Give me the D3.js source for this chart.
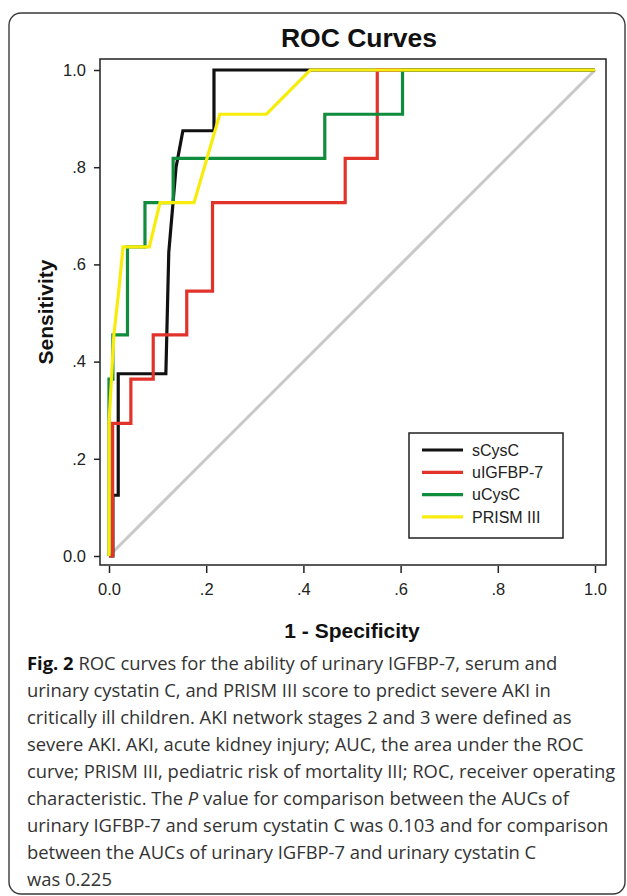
<!DOCTYPE html>
<html>
<head>
<meta charset="utf-8">
<script src="https://cdn.jsdelivr.net/npm/d3@7"></script>
<style>
  html, body { margin: 0; padding: 0; background: #fff; }
  svg { display: block; }
</style>
</head>
<body>
<svg id="chart" width="627" height="896"></svg>
<script>
// tick values and labels
const tickValues = [0, 0.2, 0.4, 0.6, 0.8, 1.0];
const tickLabels = ["0.0", ".2", ".4", ".6", ".8", "1.0"];

// series (1 - specificity, sensitivity)
const seriesNames = ["sCysC", "uIGFBP-7", "uCysC", "PRISM III"];
const seriesColors = ["#111111", "#e2332b", "#0f8c3c", "#f8ec0c"];

const sCysCX = [0, 0.008, 0.008, 0.019, 0.019, 0.117, 0.123, 0.138, 0.152, 0.216, 0.216, 0.414, 1];
const sCysCY = [0, 0, 0.125, 0.125, 0.375, 0.375, 0.625, 0.8, 0.875, 0.875, 1, 1, 1];

const uIGFBP7X = [0, 0.0075, 0.0075, 0.045, 0.045, 0.091, 0.091, 0.16, 0.16, 0.213, 0.213, 0.486, 0.486, 0.552, 0.552, 1];
const uIGFBP7Y = [0, 0, 0.273, 0.273, 0.364, 0.364, 0.455, 0.455, 0.545, 0.545, 0.727, 0.727, 0.818, 0.818, 1, 1];

const uCysCX = [0, 0, 0.008, 0.008, 0.038, 0.038, 0.074, 0.074, 0.132, 0.132, 0.444, 0.444, 0.604, 0.604, 1];
const uCysCY = [0, 0.364, 0.364, 0.455, 0.455, 0.636, 0.636, 0.727, 0.727, 0.818, 0.818, 0.909, 0.909, 1, 1];

const prismX = [0, 0, 0.005, 0.01, 0.02, 0.029, 0.083, 0.105, 0.175, 0.228, 0.324, 0.414, 1];
const prismY = [0, 0.273, 0.364, 0.455, 0.545, 0.636, 0.636, 0.727, 0.727, 0.909, 0.909, 1, 1];

const captionLines = [
    [["b", "Fig. 2"], ["n", " ROC curves for the ability of urinary IGFBP-7, serum and"]],
    [["n", "urinary cystatin C, and PRISM III score to predict severe AKI in"]],
    [["n", "critically ill children. AKI network stages 2 and 3 were defined as"]],
    [["n", "severe AKI. AKI, acute kidney injury; AUC, the area under the ROC"]],
    [["n", "curve; PRISM III, pediatric risk of mortality III; ROC, receiver operating"]],
    [["n", "characteristic. The "], ["i", "P"], ["n", " value for comparison between the AUCs of"]],
    [["n", "urinary IGFBP-7 and serum cystatin C was 0.103 and for comparison"]],
    [["n", "between the AUCs of urinary IGFBP-7 and urinary cystatin C"]],
    [["n", "was 0.225"]]
];

const svg = d3.select("#chart");
const arial = "Arial, 'Liberation Sans', sans-serif";

// outer figure box
svg.append("rect")
    .attr("x", 9).attr("y", 13)
    .attr("width", 616).attr("height", 881)
    .attr("rx", 12)
    .attr("fill", "none")
    .attr("stroke", "#3a3a3a")
    .attr("stroke-width", 1.4);

const x = d3.scaleLinear().domain([0, 1]).range([109, 595]);
const y = d3.scaleLinear().domain([0, 1]).range([556, 70]);

// frame
svg.append("rect")
    .attr("x", 100).attr("y", 59)
    .attr("width", 506).attr("height", 506)
    .attr("fill", "none")
    .attr("stroke", "#222")
    .attr("stroke-width", 1.5);

svg.append("text")
    .attr("x", 359).attr("y", 47)
    .attr("text-anchor", "middle")
    .style("font-family", arial)
    .style("font-weight", "bold")
    .style("font-size", "26.5px")
    .attr("fill", "#111")
    .text("ROC Curves");

// axes
const xAxis = d3.axisBottom(x)
    .tickValues(tickValues)
    .tickFormat((d, i) => tickLabels[i])
    .tickSize(7).tickPadding(10);
const gx = svg.append("g").attr("transform", "translate(0,566)").call(xAxis);
gx.select(".domain").remove();

const yAxis = d3.axisLeft(y)
    .tickValues(tickValues)
    .tickFormat((d, i) => tickLabels[i])
    .tickSize(6).tickPadding(8);
const gy = svg.append("g").attr("transform", "translate(100,0)").call(yAxis);
gy.select(".domain").remove();

svg.selectAll(".tick line").attr("stroke", "#222").attr("stroke-width", 1.5);
svg.selectAll(".tick text")
    .attr("font-size", null)
    .style("font-family", arial)
    .style("font-size", "16.5px")
    .attr("fill", "#222");

svg.append("text")
    .attr("x", 352).attr("y", 638)
    .attr("text-anchor", "middle")
    .style("font-family", arial)
    .style("font-weight", "bold")
    .style("font-size", "21px")
    .attr("fill", "#111")
    .text("1 - Specificity");

svg.append("text")
    .attr("transform", "translate(53,312) rotate(-90)")
    .attr("text-anchor", "middle")
    .style("font-family", arial)
    .style("font-weight", "bold")
    .style("font-size", "21px")
    .attr("fill", "#111")
    .text("Sensitivity");

// reference diagonal
svg.append("line")
    .attr("x1", x(0)).attr("y1", y(0))
    .attr("x2", x(1)).attr("y2", y(1))
    .attr("stroke", "#c8c8c8")
    .attr("stroke-width", 3);

const line = d3.line()
    .x(d => x(d[0]))
    .y(d => y(d[1]));

const series = [
    d3.zip(sCysCX, sCysCY),
    d3.zip(uIGFBP7X, uIGFBP7Y),
    d3.zip(uCysCX, uCysCY),
    d3.zip(prismX, prismY)
];

svg.append("g")
    .selectAll("path")
    .data(series)
    .enter().append("path")
    .attr("d", line)
    .attr("fill", "none")
    .attr("stroke", (d, i) => seriesColors[i])
    .attr("stroke-width", 3.2)
    .attr("stroke-linejoin", "miter");

// legend
const legend = svg.append("g");
legend.append("rect")
    .attr("x", 409).attr("y", 433)
    .attr("width", 154).attr("height", 105)
    .attr("fill", "#fff")
    .attr("stroke", "#222")
    .attr("stroke-width", 1.5);

const items = legend.selectAll("g.item")
    .data(seriesNames)
    .enter().append("g")
    .attr("class", "item")
    .attr("transform", (d, i) => `translate(0,${450 + i * 22.3})`);

items.append("line")
    .attr("x1", 422).attr("x2", 463)
    .attr("stroke", (d, i) => seriesColors[i])
    .attr("stroke-width", 3.2);

items.append("text")
    .attr("x", 472).attr("dy", "0.35em")
    .style("font-family", arial)
    .style("font-size", "16px")
    .attr("fill", "#222")
    .text(d => d);

// caption
const caption = svg.append("g");
captionLines.forEach(function(parts, i) {
    let t = caption.append("text")
        .attr("x", 27)
        .attr("y", 670 + i * 27)
        .style("font-family", "'Open Sans', 'Noto Sans', sans-serif")
        .style("font-size", "18.4px")
        .attr("fill", "#333");
    parts.forEach(function(p) {
        let ts = t.append("tspan").text(p[1]);
        if (p[0] === "b") ts.style("font-weight", "bold").attr("fill", "#111");
        if (p[0] === "i") ts.style("font-style", "italic");
    });
});
</script>
</body>
</html>
